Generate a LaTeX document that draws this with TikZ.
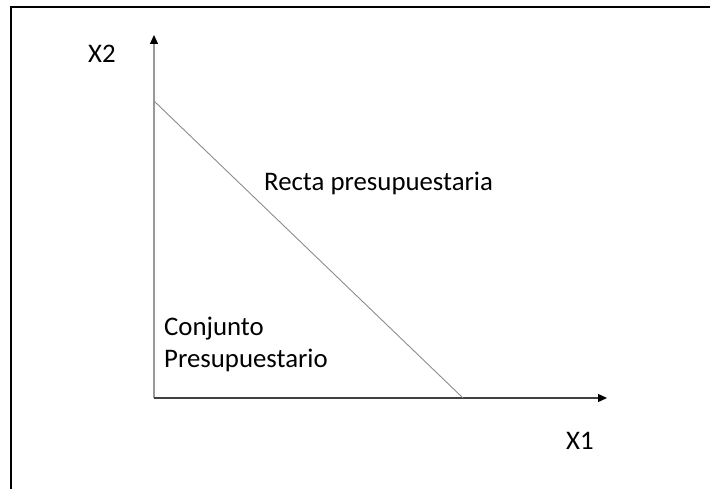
\documentclass[tikz,border=0pt]{standalone}
\usepackage{fontspec}
\setmainfont{Carlito}
\usetikzlibrary{arrows.meta}
\tikzstyle{axis}=[line width=1.3pt,-{Triangle[length=9pt,width=8pt,color=black]}]
\tikzstyle{axislabel}=[inner sep=0pt,anchor=base west,font=\fontsize{26.8}{32}\selectfont]

\begin{document}
\begin{tikzpicture}[x=1pt,y=-1pt]

   \useasboundingbox (0,0) rectangle (710,489);
   \draw[line width=2pt] (710,7) -- (11,7) -- (11,489);

    \coordinate (O) at (154,398);
    \coordinate (Ytop) at (154,35);
    \coordinate (Xend) at (607,398);
    \coordinate (A) at (154,101);
    \coordinate (B) at (463,398);

    \draw[axis,black!40] (O) -- (Ytop);
    \draw[axis,black!75] (O) -- (Xend);
    \draw[black!45,line width=0.9pt] (A) -- (B);

    \foreach \pos/ \name / \text in {(88,63)/X2/X2, (566,449)/X1/X1,
        (264,191)/recta/Recta presupuestaria,
        (164,335)/conj/Conjunto, (164,367)/pres/Presupuestario}
	   \node[axislabel] (\name) at \pos {\text};

\end{tikzpicture}
\end{document}
